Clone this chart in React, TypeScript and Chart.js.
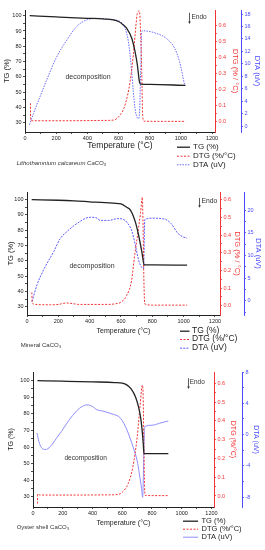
import React, { useEffect, useRef } from 'react';
import { Chart, registerables } from 'chart.js';

Chart.register(...registerables);

const FONT = '"Liberation Sans", Arial, Helvetica, sans-serif';

// ---------- Panel 1: Lithothamnium calcareum CaCO3 ----------
const p1TgTemp = [30, 200, 400, 500, 600, 631, 652, 685, 706, 721, 734, 742, 800, 1030];
const p1TgVal = [100, 99.2, 98.3, 97.9, 96.2, 93.9, 91.8, 85.3, 76.5, 67.8, 57, 55.4, 55.2, 54.5];
const p1DtgTemp = [35, 36, 45, 300, 500, 567, 610, 642, 674, 695, 712, 721, 734, 740, 749, 755, 764, 900, 1030];
const p1DtgVal = [0.115, 0.01, 0.006, 0.006, 0.008, 0.01, 0.042, 0.105, 0.25, 0.418, 0.606, 0.68, 0.694, 0.6, 0.31, 0.04, 0.003, 0.002, 0.002];
const p1DtaTemp = [28, 54, 96, 139, 199, 268, 332, 401, 481, 550, 610, 642, 663, 685, 695, 706, 717, 727, 734, 742, 749, 760, 842, 906, 960, 992, 1024];
const p1DtaVal = [0.2, 2, 4.7, 7.4, 10.9, 13.8, 16, 17.1, 17.3, 17.1, 16.8, 15.7, 13.6, 8.7, 5.5, 2.8, 1.5, 1.2, 1.8, 8.7, 15.2, 15.3, 14.9, 14.1, 12.5, 10.3, 6.6];

// ---------- Panel 2: Mineral CaCO3 ----------
const p2TgTemp = [30, 200, 300, 400, 500, 600, 636, 660, 691, 712, 733, 748, 800, 1022];
const p2TgVal = [100, 99.6, 99.2, 98.6, 98, 97.2, 95, 93.2, 85.6, 76.9, 66, 57.3, 57.3, 57.2];
const p2DtgTemp = [31, 33, 45, 150, 200, 250, 290, 330, 500, 560, 600, 636, 667, 688, 709, 725, 736, 741, 746, 752, 800, 1022];
const p2DtgVal = [0.075, 0.02, 0.008, 0.005, 0.007, 0.015, 0.012, 0.007, 0.007, 0.01, 0.02, 0.057, 0.14, 0.29, 0.42, 0.53, 0.615, 0.45, 0.15, 0.01, 0.003, 0.003];
const p2DtaTemp = [32, 64, 106, 170, 212, 254, 318, 403, 440, 470, 520, 580, 610, 640, 670, 690, 712, 733, 744, 752, 800, 878, 920, 962, 995, 1022];
const p2DtaVal = [-0.2, 3.5, 6.8, 10.8, 13.7, 15.2, 17, 18.4, 18.3, 17.7, 17.7, 18.1, 18.0, 17.2, 15.3, 12.5, 9, 7.3, 7.1, 17.9, 18.2, 18, 17, 14.9, 14.1, 13.8];

// ---------- Panel 3: Oyster shell CaCO3 ----------
const p3TgTemp = [30, 200, 400, 550, 600, 630, 660, 690, 710, 725, 735, 742, 746, 800, 910];
const p3TgVal = [100, 99.7, 99.3, 98.9, 98.5, 97.5, 95, 90, 84, 77, 69, 61, 56, 56, 56];
const p3DtgTemp = [30, 31, 50, 300, 500, 570, 600, 640, 670, 700, 720, 735, 740, 745, 750, 755, 800, 910];
const p3DtgVal = [-0.04, 0.01, 0.005, 0.005, 0.006, 0.008, 0.02, 0.066, 0.15, 0.31, 0.48, 0.59, 0.55, 0.3, 0.05, 0.003, 0.002, 0.002];
const p3DtaTemp = [27, 40, 55, 79, 100, 130, 160, 191, 240, 292, 330, 363, 400, 427, 471, 538, 577, 600, 625, 650, 675, 700, 715, 730, 737, 742, 745, 750, 800, 850, 910];
const p3DtaVal = [0.2, -0.9, -1.6, -1.9, -1.8, -1.2, -0.4, 0.4, 1.8, 3.0, 3.6, 3.8, 3.6, 3.2, 3.0, 2.6, 2.3, 1.8, 0.9, -0.3, -1.7, -3.3, -5.0, -6.9, -8.0, -5.5, -2.4, 1.0, 1.2, 1.45, 1.75];

// ---------- Tick labels ----------
const xMajor = [0, 200, 400, 600, 800, 1000, 1200];
const tgMajor = [30, 40, 50, 60, 70, 80, 90, 100];
const dtgMajor = [0, 0.1, 0.2, 0.3, 0.4, 0.5, 0.6];
const p1DtaMajor = [0, 2, 4, 6, 8, 10, 12, 14, 16, 18];
const p2DtaMajor = [0, 5, 10, 15, 20];
const p3DtaMajor = [-8, -4, 0, 4, 8];

const legendLabels = ['TG (%)', 'DTG (%/°C)', 'DTA (uV)'];
const captions = ['Lithothamnium calcareum CaCO₃', 'Mineral CaCO₃', 'Oyster shell CaCO₃'];

const BLACK = '#222222';
const RED = '#f23434';
const BLUE = '#4a4aff';

function withMinors(major: number[], dec: number): number[] {
  const out: number[] = [];
  for (let i = 0; i < major.length; i++) {
    out.push(major[i]);
    if (i < major.length - 1) out.push(+((major[i] + major[i + 1]) / 2).toFixed(dec + 2));
  }
  return out;
}

function pts(t: number[], v: number[]) {
  return t.map((x, i) => ({ x, y: v[i] }));
}

interface Spec {
  height: number;
  left: number; dtgW: number; dtaW: number;
  plotTop: number; plotBottom: number;
  xMax: number;
  tgRange: [number, number]; dtgRange: [number, number]; dtaRange: [number, number];
  dtaMajor: number[]; dtaMinor: boolean;
  tg: [number[], number[]]; dtg: [number[], number[]]; dta: [number[], number[]];
  dtaDash: number[]; dtaColor: string;
  xTitleSize: number; xTitleCenter: number;
  tgTitlePad: number; dtgTitle: string; dtgTitlePad: number; dtaTitlePad: number; yTitleSize: number;
  deco: [number, number, number];
  endoX: number; endoY1: number; endoY2: number; endoTextX: number; endoTextY: number; endoSize: number;
  legX0: number; legX1: number; legTx: number; legRows: number[]; legSize: number;
  capX: number; capY: number; capSize: number; capItalic: boolean; caption: string;
}

const specs: Spec[] = [
  {
    height: 183, left: 25, dtgW: 26, dtaW: 24, plotTop: 10, plotBottom: 132, xMax: 1219,
    tgRange: [24.1, 103.7], dtgRange: [-0.0646, 0.70], dtaRange: [-0.96, 18.65],
    dtaMajor: p1DtaMajor, dtaMinor: false,
    tg: [p1TgTemp, p1TgVal], dtg: [p1DtgTemp, p1DtgVal], dta: [p1DtaTemp, p1DtaVal],
    dtaDash: [1.5, 1.2], dtaColor: '#6a6aff',
    xTitleSize: 8.5, xTitleCenter: 146,
    tgTitlePad: 2.2, dtgTitle: 'DTG (% / °C)', dtgTitlePad: 1.5, dtaTitlePad: 3.2, yTitleSize: 7.5,
    deco: [404, 60.0, 7],
    endoX: 1054, endoY1: 101.9, endoY2: 94.6, endoTextX: 1068, endoTextY: 99.0, endoSize: 6.5,
    legX0: 177, legX1: 190, legTx: 193, legRows: [146.7, 155.7, 164.3], legSize: 8,
    capX: 16.7, capY: 163, capSize: 6, capItalic: true, caption: captions[0],
  },
  {
    height: 183, left: 27, dtgW: 24, dtaW: 21, plotTop: 9, plotBottom: 132, xMax: 1232,
    tgRange: [24.6, 105.0], dtgRange: [-0.053, 0.645], dtaRange: [-3.15, 23.97],
    dtaMajor: p2DtaMajor, dtaMinor: true,
    tg: [p2TgTemp, p2TgVal], dtg: [p2DtgTemp, p2DtgVal], dta: [p2DtaTemp, p2DtaVal],
    dtaDash: [2, 1.2], dtaColor: '#5a5aff',
    xTitleSize: 7, xTitleCenter: 147.7,
    tgTitlePad: 6.2, dtgTitle: 'DTG (% / °C)', dtgTitlePad: 2.8, dtaTitlePad: 2.2, yTitleSize: 7.5,
    deco: [415, 56.8, 7],
    endoX: 1100, endoY1: 101.1, endoY2: 94.7, endoTextX: 1114, endoTextY: 99.1, endoSize: 6.8,
    legX0: 180, legX1: 189.5, legTx: 192, legRows: [147.7, 156, 164.7], legSize: 8.5,
    capX: 20.7, capY: 162, capSize: 6, capItalic: false, caption: captions[1],
  },
  {
    height: 184, left: 33, dtgW: 28, dtaW: 23, plotTop: 6, plotBottom: 141, xMax: 1217,
    tgRange: [23.8, 105.25], dtgRange: [-0.0586, 0.66], dtaRange: [-9.24, 8.0],
    dtaMajor: p3DtaMajor, dtaMinor: true,
    tg: [p3TgTemp, p3TgVal], dtg: [p3DtgTemp, p3DtgVal], dta: [p3DtaTemp, p3DtaVal],
    dtaDash: [], dtaColor: '#8e8eff',
    xTitleSize: 7, xTitleCenter: 157.3,
    tgTitlePad: 7.2, dtgTitle: 'DTG (%/°C)', dtgTitlePad: 5.1, dtaTitlePad: 5, yTitleSize: 7,
    deco: [354, 53.4, 6.6],
    endoX: 1043, endoY1: 101.5, endoY2: 95.0, endoTextX: 1054, endoTextY: 99.0, endoSize: 6.4,
    legX0: 183, legX1: 198, legTx: 201.5, legRows: [154.7, 162.7, 170.7], legSize: 7.5,
    capX: 16.7, capY: 161.7, capSize: 6, capItalic: false, caption: captions[2],
  },
];

function fmt(v: number, dec: number) {
  return dec > 0 ? v.toFixed(dec) : String(Math.round(v));
}

function yScale(opts: {
  position: 'left' | 'right'; range: [number, number]; major: number[]; ticks: number[]; dec: number;
  color: string; width: number; title: string; titlePad: number; titleSize: number; weight: number;
}) {
  const majorSet = opts.major.map((m) => m.toFixed(4));
  return {
    type: 'linear',
    position: opts.position,
    weight: opts.weight,
    min: opts.range[0],
    max: opts.range[1],
    grid: { drawOnChartArea: false, drawTicks: true, tickLength: 2, color: opts.color, lineWidth: 0.8 },
    border: { display: true, color: opts.color, width: 1 },
    ticks: {
      autoSkip: false,
      padding: 1.5,
      color: opts.color,
      font: { size: 5.5, family: FONT },
      callback: (v: number) => (majorSet.includes(Number(v).toFixed(4)) ? fmt(Number(v), opts.dec) : ''),
    },
    afterBuildTicks: (scale: any) => {
      scale.ticks = opts.ticks.map((v) => ({ value: v }));
    },
    afterFit: (scale: any) => {
      scale.width = opts.width;
    },
    title: {
      display: true,
      text: opts.title,
      color: opts.color,
      font: { size: opts.titleSize, family: FONT },
      padding: { top: opts.titlePad, bottom: 0 },
    },
  };
}

function buildConfig(s: Spec): any {
  const xTicks = withMinors(xMajor, 0);
  const xHeight = s.xTitleCenter + 0.6 * s.xTitleSize - s.plotBottom;
  const padBottom = s.height - s.plotBottom - xHeight;
  const xMajorSet = xMajor.map(String);

  const extras = {
    id: 'extras',
    afterDraw(chart: any) {
      const ctx: CanvasRenderingContext2D = chart.ctx;
      const xs = chart.scales.x;
      const ys = chart.scales.yTG;
      ctx.save();
      // decomposition label
      ctx.fillStyle = '#333';
      ctx.font = `${s.deco[2]}px ${FONT}`;
      ctx.textAlign = 'center';
      ctx.textBaseline = 'middle';
      ctx.fillText('decomposition', xs.getPixelForValue(s.deco[0]), ys.getPixelForValue(s.deco[1]));
      // Endo arrow
      const ax = Math.round(xs.getPixelForValue(s.endoX)) + 0.5;
      const ay1 = ys.getPixelForValue(s.endoY1);
      const ay2 = ys.getPixelForValue(s.endoY2);
      ctx.strokeStyle = '#333';
      ctx.lineWidth = 0.8;
      ctx.beginPath();
      ctx.moveTo(ax, ay1);
      ctx.lineTo(ax, ay2 - 2);
      ctx.stroke();
      ctx.fillStyle = '#333';
      ctx.beginPath();
      ctx.moveTo(ax - 1.3, ay2 - 2.5);
      ctx.lineTo(ax + 1.3, ay2 - 2.5);
      ctx.lineTo(ax, ay2);
      ctx.closePath();
      ctx.fill();
      ctx.font = `${s.endoSize}px ${FONT}`;
      ctx.textAlign = 'left';
      ctx.fillText('Endo', xs.getPixelForValue(s.endoTextX), ys.getPixelForValue(s.endoTextY));
      // legend
      const styles = [
        { c: BLACK, d: [] as number[], w: 1.3 },
        { c: RED, d: [2, 1.5], w: 1 },
        { c: s.dtaColor, d: s.dtaDash, w: 1 },
      ];
      styles.forEach((st, i) => {
        const y = s.legRows[i];
        ctx.strokeStyle = st.c;
        ctx.lineWidth = st.w;
        ctx.setLineDash(st.d);
        ctx.beginPath();
        ctx.moveTo(s.legX0, y + 0.5);
        ctx.lineTo(s.legX1, y + 0.5);
        ctx.stroke();
        ctx.setLineDash([]);
        ctx.fillStyle = '#222';
        ctx.font = `${s.legSize}px ${FONT}`;
        ctx.textAlign = 'left';
        ctx.textBaseline = 'middle';
        ctx.fillText(legendLabels[i], s.legTx, y);
      });
      // caption
      ctx.fillStyle = '#333';
      ctx.font = `${s.capItalic ? 'italic ' : ''}${s.capSize}px ${FONT}`;
      ctx.textAlign = 'left';
      ctx.textBaseline = 'middle';
      ctx.fillText(s.caption, s.capX, s.capY);
      ctx.restore();
    },
  };

  const dtaTicks = s.dtaMinor ? withMinors(s.dtaMajor, 1) : s.dtaMajor;
  const dtaExtra = s.dtaMinor && s.dtaMajor[0] - (s.dtaMajor[1] - s.dtaMajor[0]) / 2 > s.dtaRange[0]
    ? [s.dtaMajor[0] - (s.dtaMajor[1] - s.dtaMajor[0]) / 2]
    : [];

  return {
    type: 'line',
    data: {
      datasets: [
        {
          label: legendLabels[0],
          data: pts(s.tg[0], s.tg[1]),
          yAxisID: 'yTG',
          borderColor: BLACK,
          borderWidth: 1.3,
          pointRadius: 0,
          cubicInterpolationMode: 'monotone',
          order: 1,
        },
        {
          label: legendLabels[1],
          data: pts(s.dtg[0], s.dtg[1]),
          yAxisID: 'yDTG',
          borderColor: RED,
          borderWidth: 1,
          borderDash: [2, 1.5],
          pointRadius: 0,
          cubicInterpolationMode: 'monotone',
          order: 2,
        },
        {
          label: legendLabels[2],
          data: pts(s.dta[0], s.dta[1]),
          yAxisID: 'yDTA',
          borderColor: s.dtaColor,
          borderWidth: 1,
          borderDash: s.dtaDash,
          pointRadius: 0,
          cubicInterpolationMode: 'monotone',
          order: 3,
        },
      ],
    },
    options: {
      animation: false,
      responsive: false,
      devicePixelRatio: 1,
      layout: { padding: { top: s.plotTop, bottom: padBottom, left: 0, right: 0 } },
      plugins: { legend: { display: false }, tooltip: { enabled: false } },
      elements: { line: { fill: false } },
      scales: {
        x: {
          type: 'linear',
          position: 'bottom',
          min: 0,
          max: s.xMax,
          grid: { drawOnChartArea: false, drawTicks: true, tickLength: 2, color: BLACK, lineWidth: 0.8 },
          border: { display: true, color: BLACK, width: 1 },
          ticks: {
            autoSkip: false,
            maxRotation: 0,
            padding: 1,
            color: '#222',
            font: { size: 5.5, family: FONT },
            callback: (v: number) => (xMajorSet.includes(String(Math.round(Number(v)))) && Number(v) % 200 === 0 ? String(v) : ''),
          },
          afterBuildTicks: (scale: any) => {
            scale.ticks = xTicks.map((v) => ({ value: v }));
          },
          afterFit: (scale: any) => {
            scale.height = xHeight;
          },
          title: {
            display: true,
            text: 'Temperature (°C)',
            color: '#222',
            font: { size: s.xTitleSize, family: FONT },
            padding: { top: 0, bottom: 0 },
          },
        },
        yTG: yScale({
          position: 'left', range: s.tgRange, major: tgMajor, ticks: withMinors(tgMajor, 0), dec: 0,
          color: BLACK, width: s.left, title: 'TG (%)', titlePad: s.tgTitlePad, titleSize: s.yTitleSize, weight: 0,
        }),
        yDTG: yScale({
          position: 'right', range: s.dtgRange, major: dtgMajor, ticks: withMinors(dtgMajor, 2), dec: 1,
          color: RED, width: s.dtgW, title: s.dtgTitle, titlePad: s.dtgTitlePad, titleSize: s.yTitleSize, weight: 0,
        }),
        yDTA: yScale({
          position: 'right', range: s.dtaRange, major: s.dtaMajor, ticks: [...dtaExtra, ...dtaTicks], dec: 0,
          color: BLUE, width: s.dtaW, title: 'DTA (uV)', titlePad: s.dtaTitlePad, titleSize: s.yTitleSize, weight: 1,
        }),
      },
    },
    plugins: [extras],
  };
}

function Panel({ spec, top }: { spec: Spec; top: number }) {
  const ref = useRef<HTMLCanvasElement | null>(null);
  useEffect(() => {
    if (!ref.current) return;
    const chart = new Chart(ref.current, buildConfig(spec));
    return () => chart.destroy();
  }, [spec]);
  return (
    <canvas
      ref={ref}
      width={265}
      height={spec.height}
      style={{ position: 'absolute', left: 0, top, width: 265, height: spec.height, display: 'block' }}
    />
  );
}

export default function App() {
  return (
    <div style={{ position: 'absolute', left: 0, top: 0, width: 265, height: 550, background: '#ffffff', overflow: 'hidden' }}>
      <Panel spec={specs[0]} top={0} />
      <Panel spec={specs[1]} top={183} />
      <Panel spec={specs[2]} top={366} />
    </div>
  );
}
